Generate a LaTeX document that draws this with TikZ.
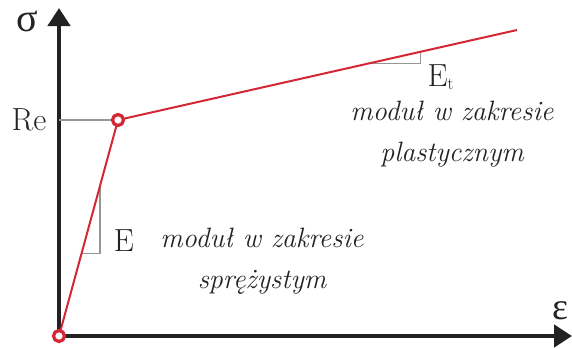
\documentclass[tikz,border=0pt]{standalone}
\usepackage{fontspec}
\newfontfamily\greekfont{Liberation Serif}
\usetikzlibrary{calc,arrows.meta}
\definecolor{curve}{RGB}{212,38,52}
\definecolor{axis}{RGB}{34,34,34}
\definecolor{guide}{RGB}{150,150,150}
\definecolor{ink}{RGB}{35,35,35}
\begin{document}
\begin{tikzpicture}[x=1pt,y=-1pt,
		axisline/.style={line width=4.6pt, color=axis, -{Triangle[width=22pt,length=18pt]}},
		guideline/.style={guide, line width=1.1pt},
		pt/.style={draw=curve, fill=white, circle, line width=3.2pt, inner sep=0pt, minimum size=11pt},
		lbl/.style={text=ink, font=\fontsize{32}{36}\selectfont},
		desc/.style={text=ink, align=center, font=\fontsize{28}{41}\selectfont\itshape}]
		\useasboundingbox (0,0) rectangle (572,348);
		\coordinate (O) at (59,336);
		\coordinate (ytop) at (59,8);
		\coordinate (xend) at (572,336);
		\coordinate (Re) at (118,120);
		\coordinate (top) at (517,30);

		% osie
		\draw[axisline] ($(O)+(0,2.3)$) -- (ytop);
		\draw[axisline] ($(O)+(-2.3,0)$) -- (xend);
		\node[text=ink, font=\greekfont\fontsize{40}{44}\selectfont] (sigma) at (27,21) {σ};
		\node[text=ink, font=\greekfont\fontsize{38}{44}\selectfont] (eps) at (560,311) {ε};

		% granica plastycznosci
		\draw[guideline] (O |- Re) -- (Re);
		\node[lbl] (relbl) at (29,120) {Re};

		% trojkaty nachylenia
		\coordinate (e1) at ($(O)!0.384!(Re)$);
		\coordinate (e2) at ($(O)!0.695!(Re)$);
		\draw[guideline] (e1) -- (e1 -| e2) -- (e2);
		\coordinate (f1) at ($(Re)!0.624!(top)$);
		\coordinate (f2) at ($(Re)!0.757!(top)$);
		\draw[guideline] (f1) -- (f1 -| f2) -- (f2);

		% wykres
		\draw[curve, line width=2pt] (O) -- (Re) -- (top);
		\node[pt] (p0) at (O) {};
		\node[pt] (p1) at (Re) {};

		\node[lbl] (E) at (124,241) {E};
		\node[lbl, anchor=base west] (Et) at (424,86) {E\raisebox{-0.25ex}{\fontsize{17}{18}\selectfont t}};
		\node[desc] (spr) at (262,261) {moduł w zakresie\\sprężystym};
		\node[desc] (pla) at (452,134) {moduł w zakresie\\plastycznym};
	\end{tikzpicture}
\end{document}
